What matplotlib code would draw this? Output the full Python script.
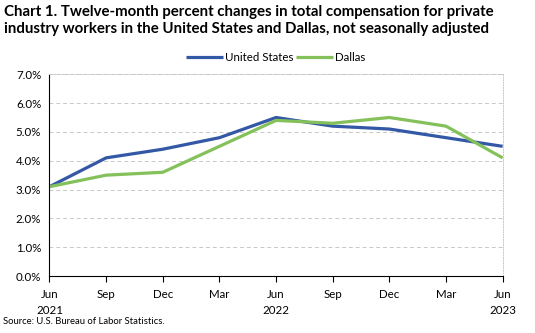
import matplotlib
matplotlib.use('Agg')
import matplotlib.pyplot as plt
from matplotlib.ticker import FuncFormatter

# Data
periods = ['Jun\n2021', 'Sep', 'Dec', 'Mar', 'Jun\n2022', 'Sep', 'Dec', 'Mar', 'Jun\n2023']
us_values = [3.1, 4.1, 4.4, 4.8, 5.5, 5.2, 5.1, 4.8, 4.5]
dallas_values = [3.1, 3.5, 3.6, 4.5, 5.4, 5.3, 5.5, 5.2, 4.1]

plt.rcParams['font.family'] = ['Lato', 'DejaVu Sans']

fig = plt.figure(figsize=(5.35, 3.33), dpi=100)
ax = fig.add_axes([0.0925, 0.171, 0.847, 0.606])

x = list(range(len(periods)))
ax.plot(x, us_values, color='#3358A5', lw=2.3, label='United States', solid_capstyle='butt')
ax.plot(x, dallas_values, color='#84C15B', lw=2.3, label='Dallas', solid_capstyle='butt')

ax.set_xlim(0, len(periods) - 1)
ax.set_ylim(0, 7)
ax.set_yticks([i for i in range(8)])
ax.yaxis.set_major_formatter(FuncFormatter(lambda v, p: f'{v:.1f}%'))
ax.set_xticks(x)
ax.set_xticklabels(periods, fontsize=8.3, linespacing=1.6)
ax.tick_params(axis='y', length=0, labelsize=8.3, pad=6, colors='#000000')
ax.tick_params(axis='x', length=4, width=0.8, direction='out', pad=5)

ax.grid(axis='y', color='#C8C8C8', linestyle=(0, (4, 3)), lw=0.7)
ax.set_axisbelow(True)
for s in ['top', 'right']:
    ax.spines[s].set_color('#C8C8C8')
    ax.spines[s].set_linestyle(':')
    ax.spines[s].set_linewidth(0.7)
ax.spines['left'].set_linewidth(0.8)
ax.spines['bottom'].set_linewidth(0.8)

fig.text(0.008, 0.985, 'Chart 1. Twelve-month percent changes in total compensation for private\n'
         'industry workers in the United States and Dallas, not seasonally adjusted',
         fontsize=10.8, fontweight='bold', va='top', ha='left', linespacing=1.3)

fig.legend(loc='center', bbox_to_anchor=(0.515, 0.828), ncol=2, frameon=False,
           fontsize=8.3, handlelength=3.2, handletextpad=0.2, columnspacing=0.2)

fig.text(0.006, 0.022, 'Source: U.S. Bureau of Labor Statistics.', fontsize=6.8, ha='left', va='bottom')

fig.savefig('out.png', dpi=100)
